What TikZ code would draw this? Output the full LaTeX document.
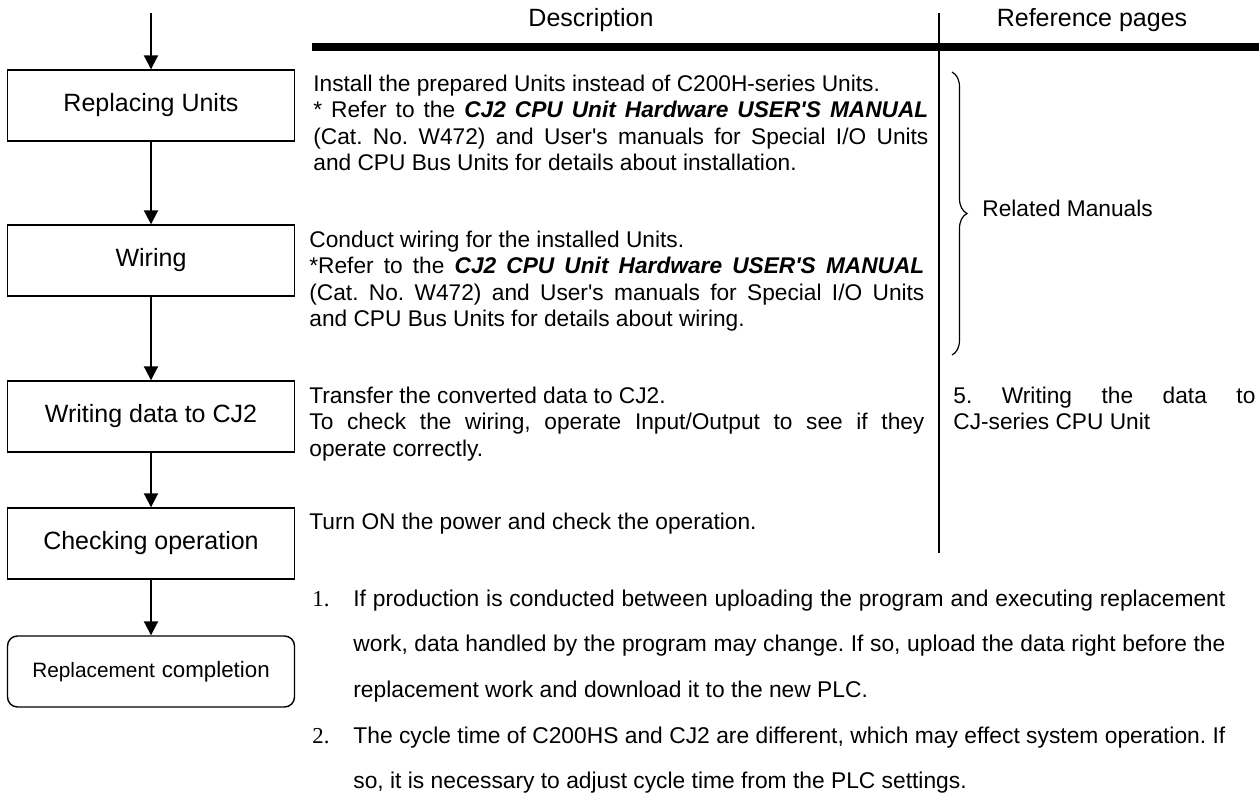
\documentclass[tikz,border=0pt]{standalone}
\usepackage{fontspec}
\setmainfont{Liberation Sans}
\newfontfamily\numfont{Liberation Serif}
\usetikzlibrary{arrows.meta,decorations.pathreplacing}
\hyphenpenalty=10000
\exhyphenpenalty=10000
\frenchspacing
\newcommand{\q}{\textquotesingle}

\begin{document}
\begin{tikzpicture}[x=0.5pt, y=-0.5pt,
        stepbox/.style={draw, line width=0.7pt, minimum width=143.5pt, minimum height=35.5pt, inner sep=0pt, font=\fontsize{12.5}{15}\selectfont},
        endbox/.style={stepbox, rounded corners=5pt},
        flow/.style={-{Triangle[length=7pt,width=7pt]}, line width=1pt},
        head/.style={anchor=base, inner sep=0pt, font=\fontsize{12.5}{15}\selectfont},
        desc/.style={anchor=base west, inner sep=0pt, text width=307.5pt, align=justify, font=\fontsize{11.35}{13.25}\selectfont},
        note/.style={anchor=base west, inner sep=0pt, text width=436pt, align=justify, font=\fontsize{11.4}{22.75}\selectfont},
        notenum/.style={anchor=base west, inner sep=0pt, font=\numfont\fontsize{11.4}{13}\selectfont}]
            \useasboundingbox (0,0) rectangle (1259,798);

            % flow boxes
            \coordinate (start) at (151,13);
            \node[stepbox] (replace) at (151,105.5) {Replacing Units};
            \node[stepbox] (wiring) at (151,260.5) {Wiring};
            \node[stepbox] (writing) at (151,416.5) {Writing data to CJ2};
            \node[stepbox] (checking) at (151,543.5) {Checking operation};
            \node[endbox] (done) at (151,671.5) {{\fontsize{10.4}{12}\selectfont Replacement} {\fontsize{11.15}{13}\selectfont completion}};

            \draw[flow] (start) -- (replace);
            \draw[flow] (replace) -- (wiring);
            \draw[flow] (wiring) -- (writing);
            \draw[flow] (writing) -- (checking);
            \draw[flow] (checking) -- (done);

            % table head
            \node[head] (deschead) at (591,26) {Description};
            \node[head] (refhead) at (1092,26) {Reference pages};
            \coordinate (rulel) at (312,47);
            \coordinate (ruler) at (1259,47);
            \draw[line width=3.6pt] (rulel) -- (ruler);
            \coordinate (sept) at (939,13);
            \coordinate (sepb) at (939,553);
            \draw[line width=0.6pt] (sept) -- (sepb);

            % description column
            \node[desc] (dreplace) at (313,91) {Install the prepared Units instead of C200H-series Units.\\
                {}* Refer to the \textbf{\textit{CJ2 CPU Unit Hardware USER\q S MANUAL}}\linebreak
                (Cat. No. W472) and User\q s manuals for Special I/O Units\linebreak
                and CPU Bus Units for details about installation.};
            \node[desc] (dwiring) at (309,247) {Conduct wiring for the installed Units.\\
                {}*Refer to the \textbf{\textit{CJ2 CPU Unit Hardware USER\q S MANUAL}}\linebreak
                (Cat. No. W472) and User\q s manuals for Special I/O Units\linebreak
                and CPU Bus Units for details about wiring.};
            \node[desc] (dwriting) at (309,403) {Transfer the converted data to CJ2.\\
                To check the wiring, operate Input/Output to see if they\linebreak
                operate correctly.};
            \node[desc] (dchecking) at (309,529) {Turn ON the power and check the operation.};

            % reference column
            \coordinate (bracet) at (952,72);
            \coordinate (braceb) at (952,355);
            \draw[line width=0.6pt, decorate, decoration={brace, amplitude=7.5pt}] (bracet) -- (braceb);
            \node[desc, text width=151pt] (related) at (982,216) {Related Manuals};
            \node[desc, text width=151pt] (refwriting) at (953,403) {5. Writing the data to\linebreak CJ-series CPU Unit};

            % notes
            \node[notenum] (num1) at (312,606) {1.};
            \node[note] (note1) at (353,606) {If production is conducted between uploading the program and executing replacement\linebreak
                work, data handled by the program may change. If so, upload the data right before the\linebreak
                replacement work and download it to the new PLC.};
            \node[notenum] (num2) at (312,743) {2.};
            \node[note] (note2) at (353,743) {The cycle time of C200HS and CJ2 are different, which may effect system operation. If\linebreak
                so, it is necessary to adjust cycle time from the PLC settings.};
\end{tikzpicture}
\end{document}
